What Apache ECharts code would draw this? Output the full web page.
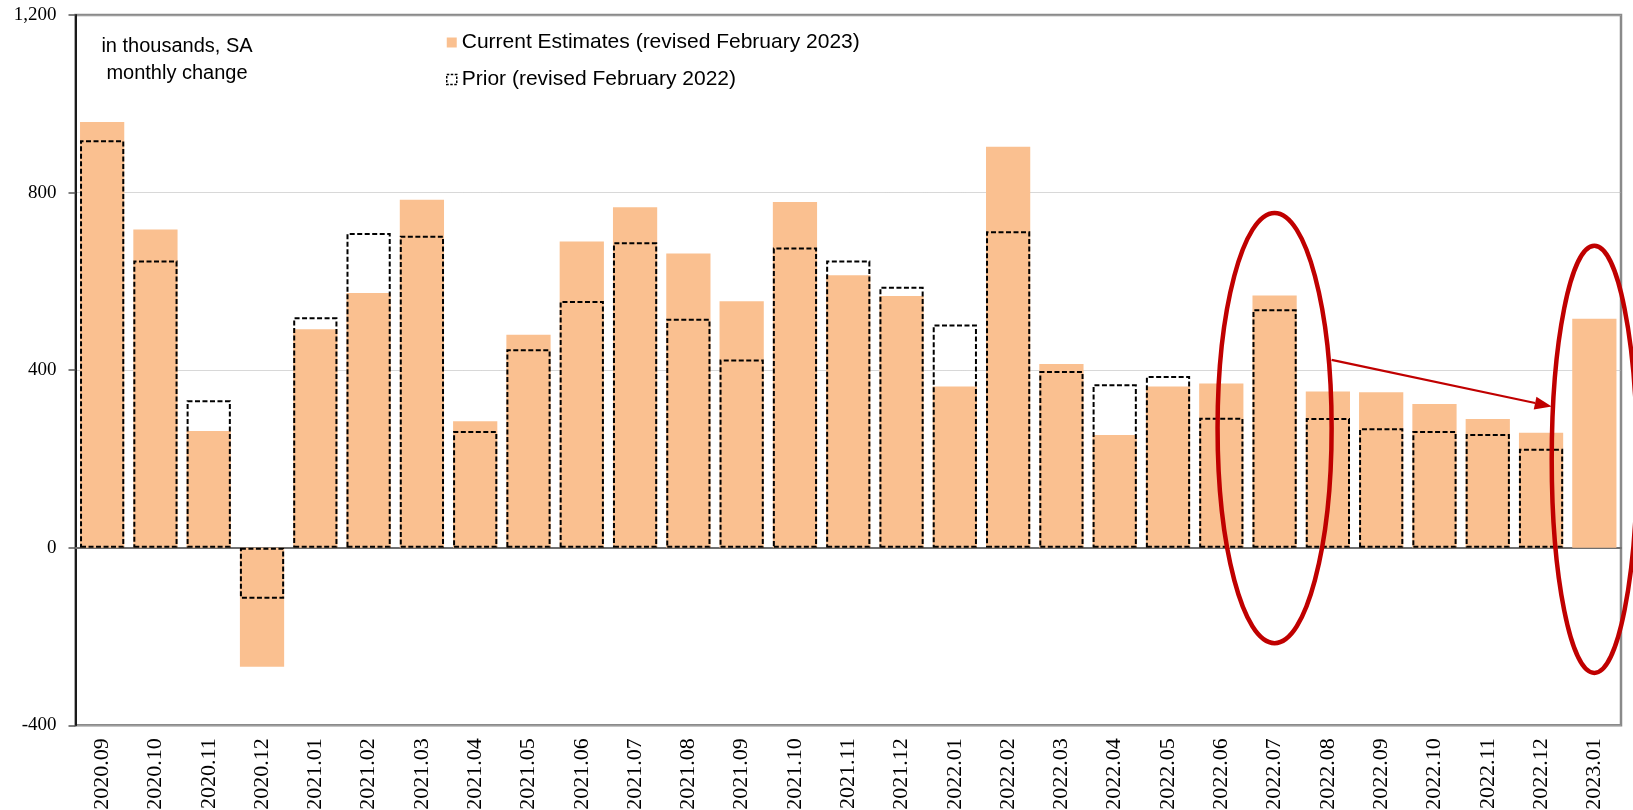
<!DOCTYPE html>
<html>
<head>
<meta charset="utf-8">
<script src="https://cdn.jsdelivr.net/npm/echarts@6/dist/echarts.min.js"></script>
<style>
html, body { margin: 0; padding: 0; background: #fff; }
#payroll-chart { width: 1633px; height: 810px; }
</style>
</head>
<body>
<div id="payroll-chart"></div>
<script>
// monthly change in payrolls, thousands, SA
const months = [
  '2020.09', '2020.10', '2020.11', '2020.12',
  '2021.01', '2021.02', '2021.03', '2021.04', '2021.05', '2021.06',
  '2021.07', '2021.08', '2021.09', '2021.10', '2021.11', '2021.12',
  '2022.01', '2022.02', '2022.03', '2022.04', '2022.05', '2022.06',
  '2022.07', '2022.08', '2022.09', '2022.10', '2022.11', '2022.12',
  '2023.01'
];
const currentEstimates = [
  959, 717, 263, -268,
  492, 574, 784, 285, 480, 690,
  767, 663, 555, 779, 614, 567,
  363, 903, 414, 254, 363, 370,
  568, 352, 350, 324, 290, 259,
  516
];
const priorEstimates = [
  918, 647, 332, -115,
  519, 709, 703, 263, 447, 556,
  688, 516, 424, 676, 647, 588,
  503, 713, 398, 368, 387, 293,
  537, 292, 269, 263, 256, 223,
  null
];
const currentName = 'Current Estimates (revised February 2023)';
const priorName = 'Prior (revised February 2022)';

// red annotations, in data terms (month, value range, half width in categories)
const circled = [
  { month: '2022.07', low: -215, high: 754, halfWidth: 1.07 },
  { month: '2023.01', low: -282, high: 680, halfWidth: 0.8 }
];
const arrowFrom = { month: '2022.07', value: 423 };
const arrowTo = { month: '2023.01', value: 318 };

const red = '#C00000';
const barColor = '#FAC090';
const serif = "'Liberation Serif', 'Times New Roman', serif";
const sans = "'Liberation Sans', Arial, sans-serif";

const option = {
  backgroundColor: '#fff',
  animation: false,
  grid: {
    show: true,
    left: 75.5,
    right: 12,
    top: 15,
    bottom: 84.7,
    outerBoundsMode: 'none',
    borderColor: '#8a8a8a',
    borderWidth: 2.5
  },
  legend: {
    data: [
      { name: currentName, icon: 'rect' },
      {
        name: priorName,
        icon: 'rect',
        itemStyle: { borderWidth: 1.5, borderType: [2.5, 1.5], borderColor: '#000' }
      }
    ],
    orient: 'vertical',
    left: 446,
    top: 32,
    padding: 0,
    itemWidth: 10,
    itemHeight: 10,
    itemGap: 16,
    selectedMode: false,
    textStyle: {
      fontFamily: sans,
      fontSize: 21,
      color: '#000'
    }
  },
  xAxis: [
    {
      type: 'category',
      data: months,
      position: 'bottom',
      axisLine: {
        onZero: true,
        lineStyle: { color: '#6f6f6f', width: 2 }
      },
      axisTick: {
        length: 6,
        lineStyle: { color: '#6f6f6f', width: 1.5 }
      },
      axisLabel: { show: false },
      splitLine: { show: false }
    },
    {
      // labels sit under the bottom frame, not at zero
      type: 'category',
      data: months,
      position: 'bottom',
      axisLine: { show: false, onZero: false },
      axisTick: { show: false },
      axisLabel: {
        interval: 0,
        rotate: 90,
        margin: 13,
        fontFamily: serif,
        fontSize: 22,
        color: '#000'
      },
      splitLine: { show: false }
    }
  ],
  yAxis: {
    type: 'value',
    min: -400,
    max: 1200,
    interval: 400,
    axisLine: {
      show: true,
      lineStyle: { color: '#1a1a1a', width: 2 }
    },
    axisTick: {
      show: true,
      length: 7,
      lineStyle: { color: '#555', width: 1.5 }
    },
    axisLabel: {
      margin: 19,
      fontFamily: serif,
      fontSize: 19,
      color: '#000',
      formatter: v => v.toLocaleString('en-US')
    },
    splitLine: {
      lineStyle: { type: 'dotted', color: '#b0b0b0', width: 1 }
    }
  },
  series: [
    {
      name: currentName,
      type: 'bar',
      xAxisIndex: 0,
      barGap: '-100%',
      barCategoryGap: '17%',
      itemStyle: { color: barColor },
      data: currentEstimates
    },
    {
      name: priorName,
      type: 'bar',
      xAxisIndex: 0,
      barGap: '-100%',
      barCategoryGap: '17%',
      itemStyle: {
        color: 'rgba(0,0,0,0)',
        borderColor: '#000',
        borderWidth: 2,
        borderType: [5, 2.5]
      },
      data: priorEstimates
    }
  ]
};

const chart = echarts.init(document.getElementById('payroll-chart'));
chart.setOption(option);

const px = (month, value) => chart.convertToPixel({ xAxisIndex: 0, yAxisIndex: 0 }, [month, value]);

function drawNotes() {
  const step = px(months[1], 0)[0] - px(months[0], 0)[0];
  const rings = circled.map(c => {
    const top = px(c.month, c.high);
    const bottom = px(c.month, c.low);
    return {
      type: 'ellipse',
      shape: {
        cx: top[0],
        cy: (top[1] + bottom[1]) / 2,
        rx: c.halfWidth * step,
        ry: (bottom[1] - top[1]) / 2
      },
      style: { fill: 'none', stroke: red, lineWidth: 4.5 },
      z: 100
    };
  });

  const a = px(arrowFrom.month, arrowFrom.value);
  const b = px(arrowTo.month, arrowTo.value);
  a[0] += circled[0].halfWidth * step;
  b[0] -= circled[1].halfWidth * step;
  const ang = Math.atan2(b[1] - a[1], b[0] - a[0]);
  const headLen = 17, headHalf = 6.5;
  const base = [b[0] - headLen * Math.cos(ang), b[1] - headLen * Math.sin(ang)];
  const nx = -Math.sin(ang) * headHalf, ny = Math.cos(ang) * headHalf;

  const notes = [
    {
      type: 'text',
      x: 177,
      y: 46,
      style: {
        text: 'in thousands, SA',
        fontFamily: sans,
        fontSize: 20,
        fill: '#000',
        textAlign: 'center',
        textVerticalAlign: 'middle'
      }
    },
    {
      type: 'text',
      x: 177,
      y: 73,
      style: {
        text: 'monthly change',
        fontFamily: sans,
        fontSize: 20,
        fill: '#000',
        textAlign: 'center',
        textVerticalAlign: 'middle'
      }
    },
    {
      type: 'line',
      shape: { x1: a[0], y1: a[1], x2: base[0], y2: base[1] },
      style: { stroke: red, lineWidth: 2.2 },
      z: 100
    },
    {
      type: 'polygon',
      shape: {
        points: [b, [base[0] + nx, base[1] + ny], [base[0] - nx, base[1] - ny]]
      },
      style: { fill: red },
      z: 100
    }
  ];

  chart.setOption({ graphic: rings.concat(notes) });
}

drawNotes();
</script>
</body>
</html>
